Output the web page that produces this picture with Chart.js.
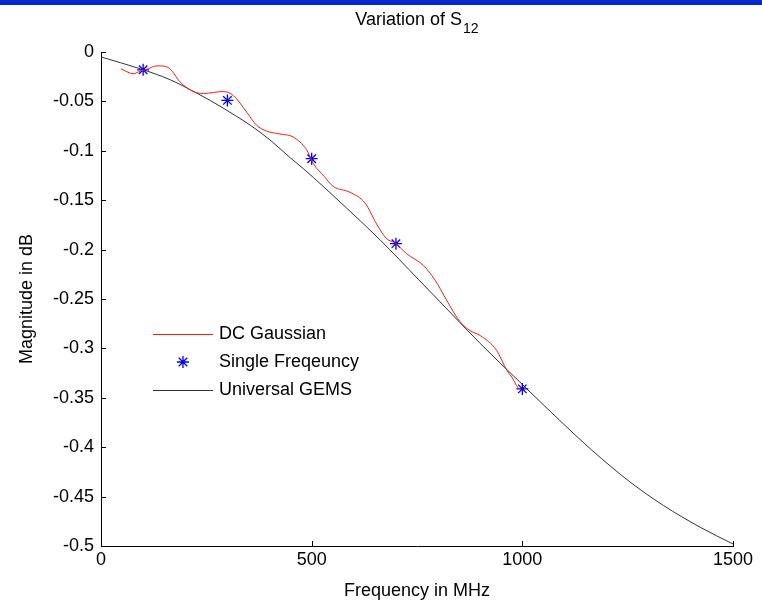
<!DOCTYPE html>
<html>
<head>
<meta charset="utf-8">
<script src="https://cdn.jsdelivr.net/npm/chart.js@4.4.1/dist/chart.umd.min.js"></script>
<style>
  body { margin: 0; background: #fff; }
  #wrap { position: relative; width: 762px; height: 602px; }
  #bar { position: absolute; left: 0; top: 0; width: 762px; height: 5px; background: #0529cc; }
  canvas { position: absolute; left: 0; top: 0; }
</style>
</head>
<body>
<div id="wrap">
  <canvas id="myChart" width="762" height="602"></canvas>
  <div id="bar"></div>
</div>
<script>
// datos

const dcFreq = [47, 77, 95, 112, 132, 156, 168, 187, 219, 243, 290, 314, 346, 369, 393, 425, 456, 488, 504, 530, 551, 591, 627, 654, 678, 697, 725, 765, 793, 820, 852, 876, 900, 939, 963, 975, 990, 998]
const dcMag = [-0.017, -0.022, -0.019, -0.017, -0.014, -0.015, -0.019, -0.030, -0.040, -0.042, -0.040, -0.044, -0.061, -0.074, -0.080, -0.083, -0.086, -0.099, -0.113, -0.126, -0.136, -0.142, -0.153, -0.174, -0.189, -0.193, -0.204, -0.216, -0.231, -0.251, -0.273, -0.282, -0.287, -0.302, -0.322, -0.329, -0.340, -0.342]

const singleFreq = [100, 300, 500, 700, 1000]
const singleMag = [-0.018, -0.049, -0.108, -0.194, -0.341]

const gemsFreq = [0, 93, 164, 211, 259, 306, 354, 401, 449, 480, 504, 583, 662, 753, 805, 900, 994, 1089, 1165, 1255, 1335, 1422, 1500]
const gemsMag = [-0.005, -0.017, -0.028, -0.038, -0.049, -0.061, -0.074, -0.089, -0.107, -0.118, -0.127, -0.158, -0.190, -0.230, -0.253, -0.295, -0.334, -0.373, -0.403, -0.435, -0.459, -0.481, -0.498]

const seriesNames = ['DC Gaussian', 'Single Freqeuncy', 'Universal GEMS']
const titleMain = 'Variation of S'
const titleSub = '12'

const FONT = "'Liberation Sans', Arial, sans-serif"

const toPoints = (xs, ys) => xs.map((x, i) => ({ x: x, y: ys[i] }))

// ticks hacia adentro como en matlab
const insideTicks = {
    id: 'insideTicks',
    afterDraw(chart) {
        const ctx = chart.ctx
        const xs = chart.scales.x, ys = chart.scales.y
        ctx.save()
        ctx.strokeStyle = '#000'
        ctx.lineWidth = 1
        ctx.beginPath()
        xs.ticks.forEach(t => {
            const px = Math.round(xs.getPixelForValue(t.value)) + 0.5
            ctx.moveTo(px, ys.bottom)
            ctx.lineTo(px, ys.bottom - 5)
        })
        ys.ticks.forEach(t => {
            const py = Math.round(ys.getPixelForValue(t.value)) + 0.5
            ctx.moveTo(xs.left, py)
            ctx.lineTo(xs.left + 5, py)
        })
        ctx.stroke()
        ctx.restore()
    }
}

const titlePlugin = {
    id: 'titleSub',
    afterDraw(chart) {
        const ctx = chart.ctx
        ctx.save()
        ctx.fillStyle = '#000'
        ctx.textBaseline = 'alphabetic'
        ctx.font = '18px ' + FONT
        const w1 = ctx.measureText(titleMain).width
        ctx.font = '14px ' + FONT
        const w2 = ctx.measureText(titleSub).width
        const cx = (chart.chartArea.left + chart.chartArea.right) / 2
        const x0 = cx - (w1 + w2 + 1) / 2
        ctx.font = '18px ' + FONT
        ctx.fillText(titleMain, x0, 25)
        ctx.font = '14px ' + FONT
        ctx.fillText(titleSub, x0 + w1 + 1, 33)
        ctx.restore()
    }
}

const legendPlugin = {
    id: 'legendInside',
    afterDraw(chart) {
        const ctx = chart.ctx
        const rows = [334, 362, 390]
        ctx.save()
        ctx.font = '18px ' + FONT
        ctx.textBaseline = 'middle'
        chart.data.datasets.forEach((ds, i) => {
            const y = rows[i]
            if (ds.showLine === false) {
                ctx.strokeStyle = ds.borderColor
                ctx.fillStyle = ds.backgroundColor
                ctx.lineWidth = ds.pointBorderWidth
                Chart.helpers.drawPoint(ctx, { pointStyle: ds.pointStyle, radius: ds.pointRadius, rotation: 0, borderWidth: ds.pointBorderWidth }, 183, y)
            } else {
                ctx.strokeStyle = ds.borderColor
                ctx.lineWidth = 1
                ctx.beginPath()
                ctx.moveTo(153, y + 0.5)
                ctx.lineTo(213, y + 0.5)
                ctx.stroke()
            }
            ctx.fillStyle = '#000'
            ctx.fillText(seriesNames[i], 219, y)
        })
        ctx.restore()
    }
}

let ctx = document.getElementById('myChart').getContext('2d')
let myChart = new Chart(ctx, {
    type: 'scatter',
    data: {
        datasets: [{
            label: seriesNames[0],
            data: toPoints(dcFreq, dcMag),
            showLine: true,
            borderColor: '#ff1a1a',
            borderWidth: 1,
            pointRadius: 0,
            cubicInterpolationMode: 'monotone'
        },
        {
            label: seriesNames[1],
            data: toPoints(singleFreq, singleMag),
            showLine: false,
            pointStyle: 'star',
            pointRadius: 6,
            pointBorderWidth: 1.3,
            borderColor: '#0000ff',
            backgroundColor: '#0000ff'
        },
        {
            label: seriesNames[2],
            data: toPoints(gemsFreq, gemsMag),
            showLine: true,
            borderColor: '#333333',
            borderWidth: 1,
            pointRadius: 0,
            cubicInterpolationMode: 'monotone'
        }]
    },
    options: {
        responsive: false,
        animation: false,
        layout: { padding: { top: 52, right: 29, bottom: 0, left: 0 } },
        plugins: {
            legend: { display: false },
            tooltip: { enabled: false }
        },
        scales: {
            x: {
                type: 'linear',
                min: 0, max: 1500,
                ticks: {
                    stepSize: 500, color: '#000', font: { family: FONT, size: 18 }, padding: 3, maxRotation: 0,
                    callback: (v) => String(v)
                },
                grid: { display: false, drawTicks: false },
                border: { display: true, color: '#000', width: 1 },
                title: { display: true, text: 'Frequency in MHz', color: '#000', font: { family: FONT, size: 18 }, padding: { top: 0, bottom: 0 } },
                afterFit: (s) => { s.height = 56 }
            },
            y: {
                type: 'linear',
                min: -0.5, max: 0,
                ticks: {
                    stepSize: 0.05, color: '#000', font: { family: FONT, size: 18 }, padding: 7,
                    callback: (v) => parseFloat(v.toFixed(2)).toString()
                },
                grid: { display: false, drawTicks: false },
                border: { display: true, color: '#000', width: 1 },
                title: { display: true, text: 'Magnitude in dB', color: '#000', font: { family: FONT, size: 18 }, padding: { top: 16, bottom: 0 } },
                afterFit: (s) => { s.width = 101 }
            }
        }
    },
    plugins: [insideTicks, titlePlugin, legendPlugin]
})
</script>
</body>
</html>
